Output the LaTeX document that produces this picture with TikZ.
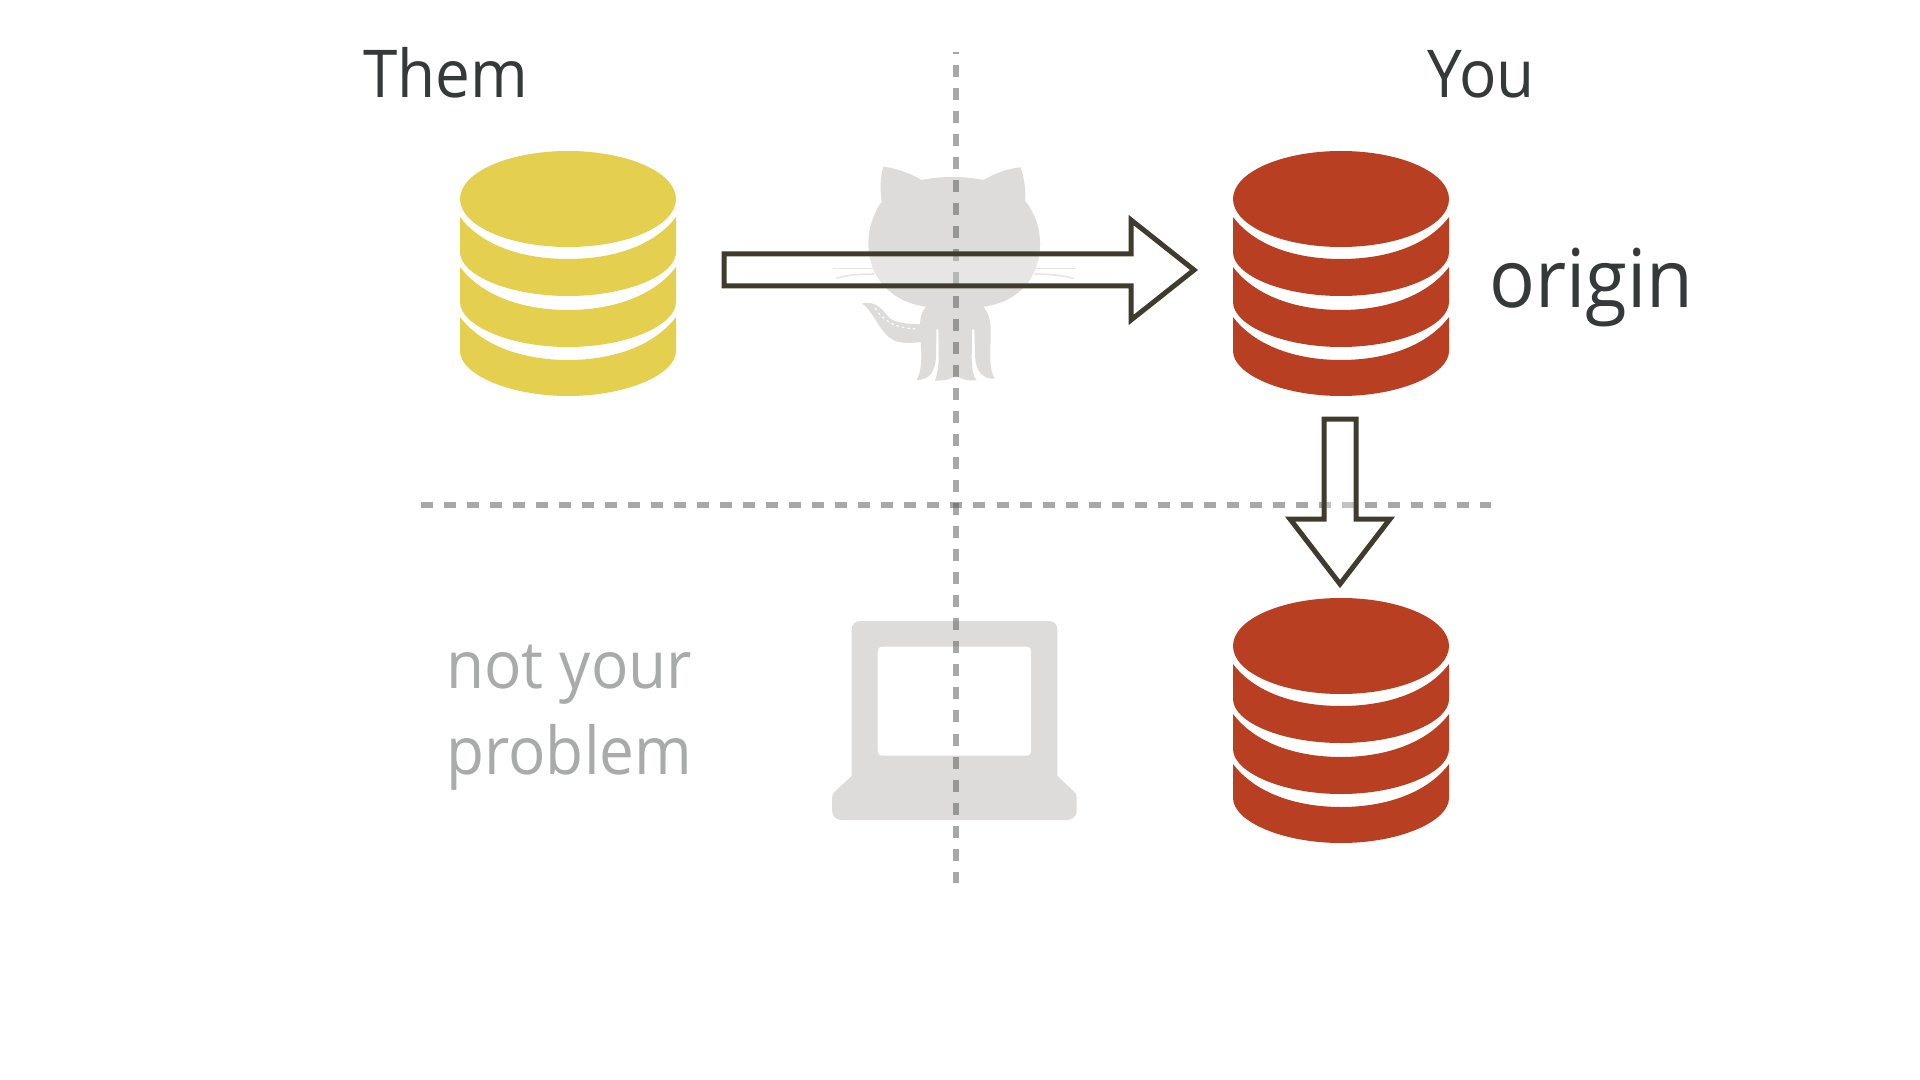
\documentclass[tikz,border=0pt]{standalone}
\usepackage{fontspec}
\setmainfont[FakeStretch=0.94]{Open Sans}
\definecolor{dbyellow}{HTML}{E5CF4F}
\definecolor{dbred}{HTML}{B83F22}
\definecolor{ghost}{HTML}{DDDCDB}
\definecolor{arrowline}{HTML}{3F3C2D}
\definecolor{inktext}{HTML}{353939}
\definecolor{paletext}{HTML}{A8ABA9}
\definecolor{dashgray}{HTML}{535353}
\tikzset{
  x=0.5pt,y=-0.5pt,
  divider/.style={draw=dashgray,opacity=0.5,line width=3pt,dash pattern=on 6pt off 5.51pt},
  blockarrow/.style={draw=arrowline,line width=2.5pt,miter limit=10,fill=white,fill opacity=0.3},
  label/.style={inner sep=0pt,anchor=base west,text=inktext},
  dbstack/.pic={
    \fill[pic actions] (-108,48) .. controls (-108,21.5) and (-59.6,0) .. (0,0) .. controls (59.6,0) and (108,21.5) .. (108,48) .. controls (108,74.5) and (59.6,96) .. (0,96) .. controls (-59.6,96) and (-108,74.5) .. (-108,48) -- cycle;
    \fill[pic actions] (-108,66) .. controls (-86,95) and (-45,108) .. (0,108) .. controls (45,108) and (86,95) .. (108,66) -- (108,101) .. controls (108,124) and (59.6,145) .. (0,145) .. controls (-59.6,145) and (-108,124) .. (-108,101) -- cycle;
    \fill[pic actions] (-108,116) .. controls (-86,145) and (-45,159) .. (0,159) .. controls (45,159) and (86,145) .. (108,116) -- (108,151) .. controls (108,174) and (59.6,196) .. (0,196) .. controls (-59.6,196) and (-108,174) .. (-108,151) -- cycle;
    \fill[pic actions] (-108,166) .. controls (-86,195) and (-45,209) .. (0,209) .. controls (45,209) and (86,195) .. (108,166) -- (108,200) .. controls (108,223) and (59.6,245) .. (0,245) .. controls (-59.6,245) and (-108,223) .. (-108,200) -- cycle;
  }
}
\begin{document}
\begin{tikzpicture}
\useasboundingbox (0,0) rectangle (1920,1080);
\fill[white] (0,0) rectangle (1920,1080);

% cat, in crop pixels of the enlarged view
\begin{scope}[shift={(800,140)},x=0.1667pt,y=-0.1667pt]
  \fill[ghost] (250,80) .. controls (290,85) and (330,100) .. (365,120)
    .. controls (420,108) and (495,108) .. (550,120)
    .. controls (585,100) and (625,85) .. (662,82)
    .. controls (672,115) and (678,150) .. (675,182)
    .. controls (705,220) and (720,265) .. (720,310)
    .. controls (720,410) and (660,485) .. (550,500)
    .. controls (562,515) and (572,535) .. (572,570)
    .. controls (572,640) and (565,690) .. (585,716)
    .. controls (550,718) and (527,695) .. (525,650)
    -- (523,568) -- (516,568) -- (515,650)
    .. controls (515,690) and (520,710) .. (530,721)
    .. controls (510,722) and (490,722) .. (468,706)
    .. controls (445,722) and (425,722) .. (405,722)
    .. controls (412,700) and (416,680) .. (416,650)
    -- (415,568) -- (409,568) -- (408,650)
    .. controls (406,695) and (388,720) .. (350,720)
    .. controls (366,690) and (365,650) .. (362,606)
    .. controls (330,610) and (300,610) .. (280,600)
    .. controls (240,580) and (225,520) .. (186,490)
    .. controls (225,482) and (245,505) .. (260,525)
    .. controls (278,550) and (320,552) .. (360,552)
    .. controls (360,535) and (365,515) .. (378,500)
    .. controls (270,485) and (205,410) .. (205,310)
    .. controls (205,265) and (220,220) .. (245,185)
    .. controls (240,150) and (240,115) .. (250,80) -- cycle;
  \draw[ghost,line width=0.8pt] (100,385) -- (222,385);
  \draw[ghost,line width=0.8pt] (108,415) .. controls (140,405) and (180,402) .. (222,402);
  \draw[ghost,line width=0.8pt] (704,385) -- (828,385);
  \draw[ghost,line width=0.8pt] (704,402) .. controls (750,402) and (790,406) .. (820,415);
  \draw[white,line width=0.6pt,dash pattern=on 1.2pt off 1.6pt] (225,505) .. controls (250,540) and (280,565) .. (355,567);
\end{scope}

% laptop, in crop pixels of the enlarged view
\begin{scope}[shift={(810,600)},x=0.1667pt,y=-0.1667pt]
  \fill[ghost,even odd rule] (125,90) .. controls (125,72) and (135,63) .. (152,63) -- (715,63)
    .. controls (732,63) and (742,72) .. (742,90) -- (742,528) -- (792,575)
    .. controls (798,580) and (800,585) .. (800,595) -- (800,630)
    .. controls (800,650) and (785,660) .. (770,660) -- (95,660)
    .. controls (80,660) and (66,650) .. (66,630) -- (66,595)
    .. controls (66,585) and (68,580) .. (74,575) -- (125,528) -- cycle
    (218,140) .. controls (208,140) and (203,145) .. (203,155) -- (203,452)
    .. controls (203,462) and (208,467) .. (218,467) -- (648,467)
    .. controls (658,467) and (663,462) .. (663,452) -- (663,155)
    .. controls (663,145) and (658,140) .. (648,140) -- cycle;
\end{scope}

% dividers
\coordinate (vtop) at (956,52);
\coordinate (vbot) at (956,883);
\coordinate (hleft) at (421,505);
\coordinate (hright) at (1491,505);
\draw[divider,dash phase=5pt,dash pattern=on 6pt off 5.525pt] (vtop) -- (vbot);
\draw[divider] (hleft) -- (hright);

% databases
\pic[fill=dbyellow] at (568,151) {dbstack};
\pic[fill=dbred] at (1341,151) {dbstack};
\pic[fill=dbred] at (1341,598) {dbstack};

% arrows
\path[fill=white] (1131,220) -- (1194,270) -- (1131,320) -- cycle;
\draw[blockarrow] (724,254) -- (1131,254) -- (1131,220) -- (1194,270) -- (1131,320) -- (1131,286) -- (724,286) -- cycle;
\path[fill=white] (1290,519) -- (1390,519) -- (1340,584) -- cycle;
\draw[blockarrow] (1324,419) -- (1356,419) -- (1356,519) -- (1390,519) -- (1340,584) -- (1290,519) -- (1324,519) -- cycle;

% labels
\node[label,font=\fontsize{33pt}{33pt}\selectfont] (themlabel) at (363,98) {Them};
\node[label,font=\fontsize{33pt}{33pt}\selectfont] (youlabel) at (1427,98) {You};
\node[label,font=\fontsize{40.5pt}{40.5pt}\selectfont] (originlabel) at (1489,308) {origin};
\node[label,text=paletext,font=\fontsize{33pt}{33pt}\selectfont] (notyour) at (446,688) {not your};
\node[label,text=paletext,font=\fontsize{33pt}{33pt}\selectfont] (problem) at (446,774) {problem};
\end{tikzpicture}
\end{document}
